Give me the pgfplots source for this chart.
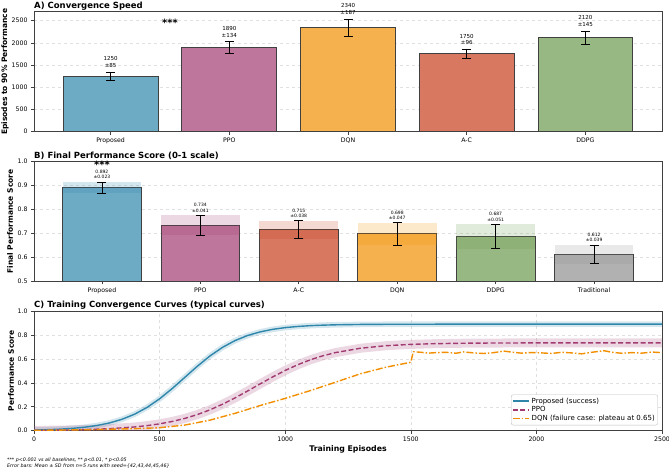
\documentclass[border=0pt]{standalone}
\usepackage{pgfplots}
\pgfplotsset{compat=1.18}
\usepackage{fontspec}
\setmainfont{DejaVu Sans}
\definecolor{cBlue}{HTML}{2E86AB}
\definecolor{cPink}{HTML}{A23B72}
\definecolor{cOrange}{HTML}{F18F01}
\definecolor{cRed}{HTML}{C73E1D}
\definecolor{cGreen}{HTML}{6A994E}
\definecolor{cGray}{HTML}{909090}
\pgfplotsset{
  mystyle/.style={
    scale only axis, width=628pt, height=120pt, anchor=south west,
    axis line style={black!75, line width=0.7pt},
    tick style={black!75, line width=0.6pt}, tick align=outside, major tick length=3pt,
    tick pos=left,
    tick label style={font=\fontsize{6.2}{7}\selectfont},
    /pgf/number format/assume math mode=true,
    /pgf/number format/1000 sep={},
    scaled ticks=false,
    title style={at={(0,1)}, anchor=base west, inner sep=0pt, yshift=-2.5pt, font=\bfseries\fontsize{8.5}{10}\selectfont},
    ylabel style={font=\bfseries\fontsize{7.5}{9}\selectfont, anchor=center},
    xlabel style={font=\bfseries\fontsize{7.8}{9}\selectfont},
    grid style={black!12, dashed, line width=0.4pt},
  },
  mybar/.style={ybar, bar width=0.8, bar shift=0pt, draw=black!75, line width=0.9pt, fill=#1!70},
  myerr/.style={draw=none, mark=none, forget plot,
    error bars/.cd, y dir=both, y explicit,
    error bar style={draw=black, solid, line width=0.8pt},
    error mark=-,
    error mark options={draw=black, solid, rotate=90, mark size=4.5pt, line width=0.8pt}},
  myband/.style={draw=none, fill=#1, fill opacity=0.2, forget plot},
}
\begin{document}
\begin{tikzpicture}
\useasboundingbox (0pt,0pt) rectangle (669pt,473pt);

% ---------------- Panel A ----------------
\begin{axis}[mystyle, at={(34pt,341.3pt)},
  xmin=-0.645, xmax=4.645, ymin=0, ymax=2700,
  xtick={0,1,2,3,4}, xticklabels={Proposed,PPO,DQN,A-C,DDPG},
  ytick={0,500,1000,1500,2000,2500},
  ymajorgrids, clip=false,
  title={A) Convergence Speed},
  ylabel={Episodes to 90\% Performance},
  ylabel style={at={(axis description cs:-0.0462,0.5)}}]
\addplot[mybar=cBlue] coordinates {(0,1250)};
\addplot[mybar=cPink] coordinates {(1,1890)};
\addplot[mybar=cOrange] coordinates {(2,2340)};
\addplot[mybar=cRed] coordinates {(3,1750)};
\addplot[mybar=cGreen] coordinates {(4,2120)};
\addplot[myerr] coordinates {(0,1250) +- (0,85) (1,1890) +- (0,134) (2,2340) +- (0,187) (3,1750) +- (0,96) (4,2120) +- (0,145)};
\begin{scope}[every node/.style={anchor=south, align=center, inner sep=0pt, font=\fontsize{5.5}{6.8}\selectfont}]
\node at (axis cs:0,1435) {1250\\±85};
\node at (axis cs:1,2124) {1890\\±134};
\node at (axis cs:2,2627) {2340\\±187};
\node at (axis cs:3,1946) {1750\\±96};
\node at (axis cs:4,2365) {2120\\±145};
\end{scope}
\node[font=\bfseries\fontsize{10}{10}\selectfont, inner sep=0pt] at (axis cs:0.5,2450) {***};
\end{axis}

% ---------------- Panel B ----------------
\begin{axis}[mystyle, at={(34pt,191.8pt)}, height=119.5pt,
  xmin=-0.69, xmax=5.69, ymin=0.5, ymax=1.0,
  xtick={0,1,2,3,4,5}, xticklabels={Proposed,PPO,A-C,DQN,DDPG,Traditional},
  ytick={0.5,0.6,0.7,0.8,0.9,1.0},
  yticklabel style={/pgf/number format/.cd, fixed, fixed zerofill, precision=1},
  ymajorgrids,
  title={B) Final Performance Score (0-1 scale)},
  ylabel={Final Performance Score},
  ylabel style={at={(axis description cs:-0.0382,0.5)}}]
\addplot[mybar=cBlue] coordinates {(0,0.892)};
\addplot[mybar=cPink] coordinates {(1,0.734)};
\addplot[mybar=cRed] coordinates {(2,0.715)};
\addplot[mybar=cOrange] coordinates {(3,0.698)};
\addplot[mybar=cGreen] coordinates {(4,0.687)};
\addplot[mybar=cGray] coordinates {(5,0.612)};
\addplot[myband=cBlue] coordinates {(-0.4,0.869) (0.4,0.869) (0.4,0.915) (-0.4,0.915)};
\addplot[myband=cPink] coordinates {(0.6,0.693) (1.4,0.693) (1.4,0.775) (0.6,0.775)};
\addplot[myband=cRed] coordinates {(1.6,0.677) (2.4,0.677) (2.4,0.753) (1.6,0.753)};
\addplot[myband=cOrange] coordinates {(2.6,0.651) (3.4,0.651) (3.4,0.745) (2.6,0.745)};
\addplot[myband=cGreen] coordinates {(3.6,0.636) (4.4,0.636) (4.4,0.738) (3.6,0.738)};
\addplot[myband=cGray] coordinates {(4.6,0.573) (5.4,0.573) (5.4,0.651) (4.6,0.651)};
\addplot[myerr] coordinates {(0,0.892) +- (0,0.023) (1,0.734) +- (0,0.041) (2,0.715) +- (0,0.038) (3,0.698) +- (0,0.047) (4,0.687) +- (0,0.051) (5,0.612) +- (0,0.039)};
\begin{scope}[every node/.style={anchor=south, align=center, inner sep=0pt, font=\fontsize{4.5}{5.4}\selectfont}]
\node at (axis cs:0,0.927) {0.892\\±0.023};
\node at (axis cs:1,0.787) {0.734\\±0.041};
\node at (axis cs:2,0.765) {0.715\\±0.038};
\node at (axis cs:3,0.757) {0.698\\±0.047};
\node at (axis cs:4,0.750) {0.687\\±0.051};
\node at (axis cs:5,0.663) {0.612\\±0.039};
\end{scope}
\end{axis}
\begin{axis}[scale only axis, width=628pt, height=119.5pt, anchor=south west, at={(34pt,191.8pt)},
  xmin=-0.69, xmax=5.69, ymin=0.5, ymax=1.0, hide axis, clip=false]
\node[font=\bfseries\fontsize{10}{10}\selectfont, inner sep=0pt] at (axis cs:0,0.985) {***};
\end{axis}

% ---------------- Panel C ----------------
\begin{axis}[mystyle, at={(34pt,42.3pt)}, height=119.7pt,
  xmin=0, xmax=2500, ymin=0, ymax=1,
  xtick={0,500,1000,1500,2000,2500},
  ytick={0,0.2,0.4,0.6,0.8,1.0},
  yticklabel style={/pgf/number format/.cd, fixed, fixed zerofill, precision=1},
  xmajorgrids, ymajorgrids,
  title={C) Training Convergence Curves (typical curves)},
  xlabel={Training Episodes},
  xlabel style={at={(axis description cs:0.5,-0.153)}, anchor=center},
  ylabel={Performance Score},
  ylabel style={at={(axis description cs:-0.0366,0.5)}},
  legend style={at={(axis description cs:0.9936,0.045)}, anchor=south east,
    font=\fontsize{7}{8}\selectfont, draw=black!25, rounded corners=2pt,
    inner sep=1pt, row sep=-2pt, fill=white},
  legend cell align=left,
  legend image code/.code={\draw[#1] (0pt,0pt) -- (16pt,0pt);}]
% bands (mean +- SD)
\addplot[cBlue, opacity=0.2, line width=5.6pt, line join=round, forget plot] coordinates {
(0,0.0054)(50,0.0082)(100,0.0125)(150,0.019)(200,0.0287)(250,0.0432)(300,0.0644)(350,0.095)(400,0.1375)(450,0.1944)(500,0.2665)(550,0.3518)(600,0.445)(650,0.538)(700,0.6237)(750,0.6958)(800,0.7525)(850,0.7951)(900,0.8255)(950,0.8468)(1000,0.8612)(1050,0.8707)(1100,0.8775)(1150,0.8818)(1200,0.8846)(1300,0.8877)(1400,0.889)(1600,0.8897)(1800,0.89)(2000,0.89)(2500,0.89)};
\addplot[cPink, opacity=0.2, line width=9pt, line join=round, forget plot] coordinates {
(0,0.0024)(100,0.0046)(200,0.0087)(300,0.0165)(400,0.0311)(450,0.0423)(500,0.0573)(550,0.0769)(600,0.1024)(650,0.1344)(700,0.1739)(750,0.2206)(800,0.2737)(850,0.3314)(900,0.3908)(950,0.449)(1000,0.5033)(1050,0.5514)(1100,0.5923)(1150,0.6258)(1200,0.6525)(1300,0.689)(1400,0.7099)(1500,0.7212)(1600,0.7272)(1700,0.7305)(1800,0.7322)(2000,0.7335)(2500,0.734)};
% curves
\addplot[cBlue, line width=1.4pt, line join=round] coordinates {
(0,0.0054)(50,0.0082)(100,0.0125)(150,0.019)(200,0.0287)(250,0.0432)(300,0.0644)(350,0.095)(400,0.1375)(450,0.1944)(500,0.2665)(550,0.3518)(600,0.445)(650,0.538)(700,0.6237)(750,0.6958)(800,0.7525)(850,0.7951)(900,0.8255)(950,0.8468)(1000,0.8612)(1050,0.8707)(1100,0.8775)(1150,0.8818)(1200,0.8846)(1300,0.8877)(1400,0.889)(1600,0.8897)(1800,0.89)(2000,0.89)(2500,0.89)};
\addlegendentry{Proposed (success)}
\addplot[cPink, line width=1.4pt, dash pattern=on 5pt off 2.5pt, line join=round] coordinates {
(0,0.0024)(100,0.0046)(200,0.0087)(300,0.0165)(400,0.0311)(450,0.0423)(500,0.0573)(550,0.0769)(600,0.1024)(650,0.1344)(700,0.1739)(750,0.2206)(800,0.2737)(850,0.3314)(900,0.3908)(950,0.449)(1000,0.5033)(1050,0.5514)(1100,0.5923)(1150,0.6258)(1200,0.6525)(1300,0.689)(1400,0.7099)(1500,0.7212)(1600,0.7272)(1700,0.7305)(1800,0.7322)(2000,0.7335)(2500,0.734)};
\addlegendentry{PPO}
\addplot[cOrange, line width=1.4pt, dash pattern=on 7pt off 2pt on 1.5pt off 2pt, line join=round] coordinates {
(0,0.003)(100,0.005)(200,0.008)(300,0.012)(400,0.017)(500,0.025)(600,0.047)(700,0.088)(800,0.145)(900,0.21)(1000,0.27)(1100,0.335)(1200,0.405)(1300,0.476)(1400,0.53)(1500,0.572)
(1510,0.66)(1540,0.655)(1570,0.648)(1600,0.652)(1640,0.655)(1680,0.647)(1710,0.658)(1750,0.65)(1790,0.645)(1830,0.652)(1870,0.665)(1900,0.657)(1940,0.648)(1980,0.653)(2020,0.65)(2060,0.645)(2100,0.655)(2140,0.65)(2180,0.642)(2220,0.655)(2270,0.668)(2300,0.655)(2340,0.647)(2380,0.652)(2420,0.648)(2460,0.657)(2500,0.652)};
\addlegendentry{DQN (failure case: plateau at 0.65)}
\end{axis}

% footnotes
\node[anchor=base west, inner sep=0pt, font=\itshape\fontsize{4.8}{5}\selectfont] at (7pt,11.5pt) {*** p<0.001 vs all baselines, ** p<0.01, * p<0.05};
\node[anchor=base west, inner sep=0pt, font=\itshape\fontsize{4.8}{5}\selectfont] at (7pt,5pt) {Error bars: Mean ± SD from n=5 runs with seed=\{42,43,44,45,46\}};
\end{tikzpicture}
\end{document}
